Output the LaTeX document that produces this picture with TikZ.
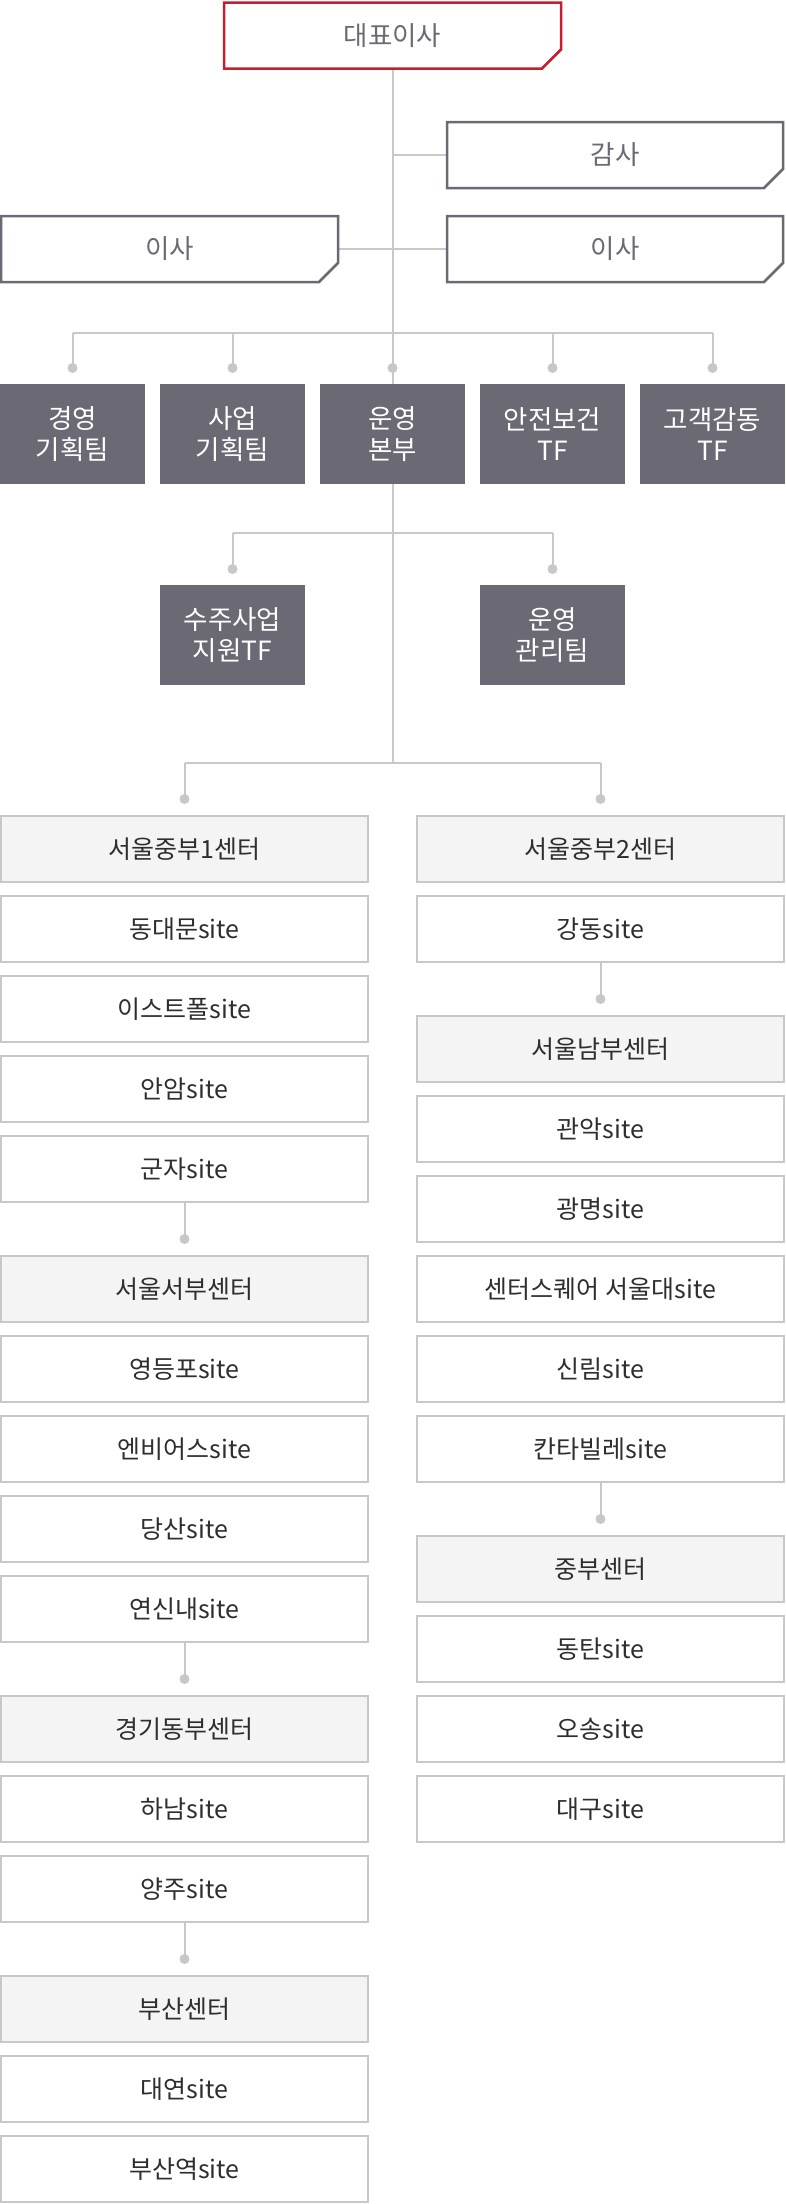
\documentclass[tikz,border=0pt]{standalone}
\usepackage{fontspec}
\setmainfont{Noto Sans CJK KR}
\definecolor{lineC}{HTML}{C8C8C8}
\definecolor{hdrF}{HTML}{F4F4F4}
\definecolor{darkC}{HTML}{6B6A74}
\definecolor{redC}{HTML}{C41F2E}
\definecolor{textC}{HTML}{2E2E2E}
\tikzset{
  conn/.style={draw=lineC, line width=2pt},
  dotc/.style={fill=lineC},
  topbox/.style={minimum width=337pt, minimum height=66pt, inner sep=0pt, outer sep=0pt, text=darkC, font=\fontsize{26.5}{30}\selectfont},
  redline/.style={draw=redC, line width=2.5pt, line join=miter},
  grayline/.style={draw=darkC, line width=2.5pt, line join=miter},
  darkbox/.style={fill=darkC, minimum width=145pt, minimum height=100pt, inner sep=0pt, outer sep=0pt, text=white, align=center, font=\fontsize{26.5}{31}\selectfont},
  sitebox/.style={draw=lineC, line width=2pt, fill=white, minimum width=367pt, minimum height=66pt, inner sep=0pt, outer sep=0pt, text=textC, font=\fontsize{25}{28}\selectfont},
  hdrbox/.style={sitebox, fill=hdrF}
}
\begin{document}
\begin{tikzpicture}[x=1pt,y=-1pt]
\useasboundingbox (0,0) rectangle (785,2204);

% top level
\node[topbox] (ceo) at (392.5,35.5) {대표이사};
\node[topbox, minimum width=336pt] (audit) at (615,155) {감사};
\node[topbox] (dirL) at (169.5,249) {이사};
\node[topbox, minimum width=336pt] (dirR) at (615,249) {이사};

% dark rows
\node[darkbox] (mgmt) at (72.5,434) {경영\\기획팀};
\node[darkbox] (biz) at (232.5,434) {사업\\기획팀};
\node[darkbox] (ops) at (392.5,434) {운영\\본부};
\node[darkbox] (safety) at (552.5,434) {안전보건\\TF};
\node[darkbox] (cs) at (712.5,434) {고객감동\\TF};
\node[darkbox] (sujoo) at (232.5,635) {수주사업\\지원TF};
\node[darkbox] (opsmgmt) at (552.5,635) {운영\\관리팀};

% connectors top
\draw[conn] (ceo.south) -- (ops.north);
\draw[conn] (audit.west) -- (audit.west -| ceo.south);
\draw[conn] (dirL.east) -- (dirR.west);

\coordinate (bar1) at (392.5,333);
\draw[conn] (mgmt.north |- bar1) -- (cs.north |- bar1);
\foreach \n in {mgmt,biz,ops,safety,cs}{
  \draw[conn] (\n.north |- bar1) -- ([yshift=16pt]\n.north);
  \fill[dotc] ([yshift=16pt]\n.north) circle (5pt);
}

\coordinate (bar2) at (392.5,533);
\draw[conn] (ops.south) -- (bar2);
\draw[conn] (sujoo.north |- bar2) -- (opsmgmt.north |- bar2);
\foreach \n in {sujoo,opsmgmt}{
  \draw[conn] (\n.north |- bar2) -- ([yshift=16pt]\n.north);
  \fill[dotc] ([yshift=16pt]\n.north) circle (5pt);
}

% left column
\node[hdrbox] (L1) at (184.5,849) {서울중부1센터};
\node[sitebox] (L2) at (184.5,929) {동대문site};
\node[sitebox] (L3) at (184.5,1009) {이스트폴site};
\node[sitebox] (L4) at (184.5,1089) {안암site};
\node[sitebox] (L5) at (184.5,1169) {군자site};
\node[hdrbox] (L6) at (184.5,1289) {서울서부센터};
\node[sitebox] (L7) at (184.5,1369) {영등포site};
\node[sitebox] (L8) at (184.5,1449) {엔비어스site};
\node[sitebox] (L9) at (184.5,1529) {당산site};
\node[sitebox] (L10) at (184.5,1609) {연신내site};
\node[hdrbox] (L11) at (184.5,1729) {경기동부센터};
\node[sitebox] (L12) at (184.5,1809) {하남site};
\node[sitebox] (L13) at (184.5,1889) {양주site};
\node[hdrbox] (L14) at (184.5,2009) {부산센터};
\node[sitebox] (L15) at (184.5,2089) {대연site};
\node[sitebox] (L16) at (184.5,2169) {부산역site};

% right column
\node[hdrbox] (R1) at (600.5,849) {서울중부2센터};
\node[sitebox] (R2) at (600.5,929) {강동site};
\node[hdrbox] (R3) at (600.5,1049) {서울남부센터};
\node[sitebox] (R4) at (600.5,1129) {관악site};
\node[sitebox] (R5) at (600.5,1209) {광명site};
\node[sitebox] (R6) at (600.5,1289) {센터스퀘어 서울대site};
\node[sitebox] (R7) at (600.5,1369) {신림site};
\node[sitebox] (R8) at (600.5,1449) {칸타빌레site};
\node[hdrbox] (R9) at (600.5,1569) {중부센터};
\node[sitebox] (R10) at (600.5,1649) {동탄site};
\node[sitebox] (R11) at (600.5,1729) {오송site};
\node[sitebox] (R12) at (600.5,1809) {대구site};

\coordinate (bar3) at (392.5,763);
\draw[conn] (bar2) -- (bar3);
\draw[conn] (L1.north |- bar3) -- (R1.north |- bar3);
\foreach \n in {L1,R1}{
  \draw[conn] (\n.north |- bar3) -- ([yshift=17pt]\n.north);
  \fill[dotc] ([yshift=17pt]\n.north) circle (5pt);
}
\foreach \a/\b in {L5/L6,L10/L11,L13/L14,R2/R3,R8/R9}{
  \draw[conn] (\a.south) -- ([yshift=17pt]\b.north);
  \fill[dotc] ([yshift=17pt]\b.north) circle (5pt);
}

% chamfered outlines
\draw[redline] (ceo.north west) -- (ceo.north east) -- ([yshift=19pt]ceo.south east) -- ([xshift=-19pt]ceo.south east) -- (ceo.south west) -- cycle;
\foreach \n in {audit,dirL,dirR}{
  \draw[grayline] (\n.north west) -- (\n.north east) -- ([yshift=19pt]\n.south east) -- ([xshift=-19pt]\n.south east) -- (\n.south west) -- cycle;
}
\end{tikzpicture}
\end{document}
